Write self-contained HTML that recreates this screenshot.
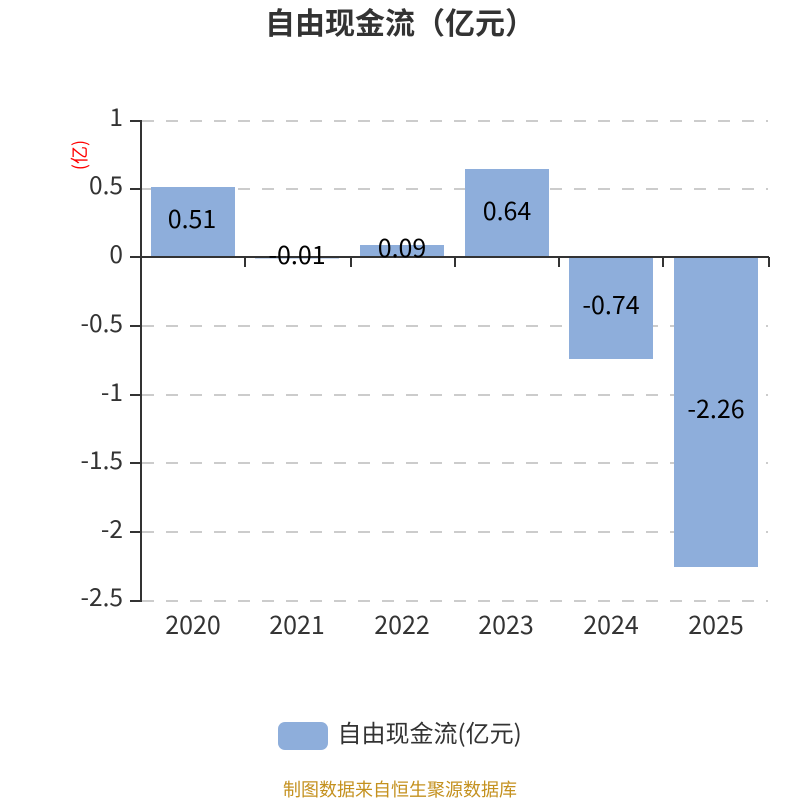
<!DOCTYPE html>
<html>
<head>
<meta charset="utf-8">
<style>
html,body{margin:0;padding:0;background:#fff;width:800px;height:800px;overflow:hidden}
svg{display:block}
text{font-family:"Noto Sans CJK SC","Liberation Sans",sans-serif}
.y{font-size:24.5px;fill:#333;text-anchor:end}
.x{font-size:25px;fill:#333;text-anchor:middle}
.v{font-size:25px;fill:#000;text-anchor:middle}
.g{stroke:#ccc;stroke-width:2;stroke-dasharray:12 12;fill:none}
.a{stroke:#333;stroke-width:2;fill:none}
.b{fill:#8eaedb}
</style>
</head>
<body>
<svg width="800" height="800" viewBox="0 0 800 800" xmlns="http://www.w3.org/2000/svg">
<rect width="800" height="800" fill="#fff"/>
<text x="400" y="34" font-size="30" font-weight="700" fill="#333" text-anchor="middle">自由现金流（亿元）</text>

<path class="g" d="M142 121H768M142 189H768M142 326H768M142 395H768M142 463H768M142 532H768M142 601H768"/>

<rect class="b" x="151" y="187" width="84" height="70"/>
<rect class="b" x="255" y="257" width="84" height="1.5"/>
<rect class="b" x="360" y="245" width="84" height="12"/>
<rect class="b" x="465" y="169" width="84" height="88"/>
<rect class="b" x="569" y="257" width="84" height="102"/>
<rect class="b" x="674" y="257" width="84" height="310"/>

<path class="a" d="M141 120V602M141 257H769M130 121H141M130 189H141M130 257H141M130 326H141M130 395H141M130 463H141M130 532H141M130 601H141M245 257V267M351 257V267M455 257V267M559 257V267M663 257V267M769 257V267"/>

<text class="y" x="123" y="126">1</text>
<text class="y" x="123" y="194">0.5</text>
<text class="y" x="123" y="263">0</text>
<text class="y" x="123" y="332">-0.5</text>
<text class="y" x="123" y="401">-1</text>
<text class="y" x="123" y="469">-1.5</text>
<text class="y" x="123" y="538">-2</text>
<text class="y" x="123" y="606">-2.5</text>

<text class="x" x="193" y="634">2020</text>
<text class="x" x="297" y="634">2021</text>
<text class="x" x="402" y="634">2022</text>
<text class="x" x="506" y="634">2023</text>
<text class="x" x="611" y="634">2024</text>
<text class="x" x="716" y="634">2025</text>

<text class="v" x="192" y="228">0.51</text>
<text class="v" x="297" y="264">-0.01</text>
<text class="v" x="402" y="257">0.09</text>
<text class="v" x="507" y="220">0.64</text>
<text class="v" x="611" y="314">-0.74</text>
<text class="v" x="716" y="418">-2.26</text>

<text transform="translate(86,155) rotate(-90)" font-size="18" fill="#f00" text-anchor="middle">(亿)</text>

<rect class="b" x="278" y="722" width="50" height="28" rx="7" ry="7"/>
<text x="337.5" y="742" font-size="24" fill="#333">自由现金流(亿元)</text>
<text x="400" y="796" font-size="18" fill="#c4911f" text-anchor="middle">制图数据来自恒生聚源数据库</text>
</svg>
</body>
</html>
